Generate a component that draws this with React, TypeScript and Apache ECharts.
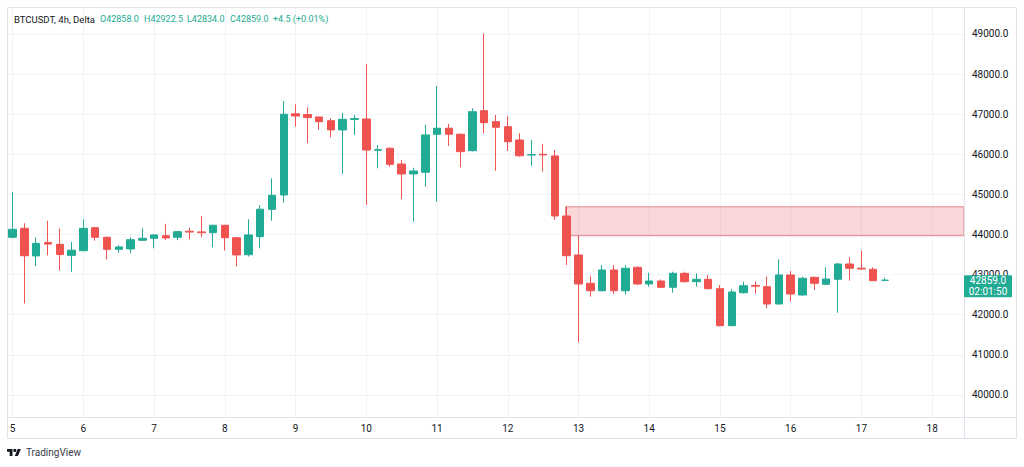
import React, { useEffect, useRef } from "react";
import * as echarts from "echarts";

const symbolTitle = "BTCUSDT, 4h, Delta";
const dayLabels = ["5", "6", "7", "8", "9", "10", "11", "12", "13", "14", "15", "16", "17", "18"];
const slotsPerDay = 6;
const yTicks = [40000, 41000, 42000, 43000, 44000, 45000, 46000, 47000, 48000, 49000];

const opens = [
  43930, 44155, 43465, 43800, 43755, 43480, 43596, 44170, 43930, 43630,
  43640, 43855, 43905, 43970, 43930, 44080, 44065, 44045, 44230, 43920,
  43496, 43945, 44628, 44985, 47010, 46990, 46930, 46838, 46608, 46870,
  46880, 46100, 46150, 45758, 45510, 45553, 46500, 46650, 46500, 46090,
  47087, 46813, 46688, 46357, 45980, 46000, 45958, 44461, 43489, 42783,
  42598, 43115, 42598, 43182, 42766, 42840, 42683, 43032, 42823, 42883,
  42648, 41726, 42549, 42730, 42698, 42267, 42990, 42491, 42932, 42758,
  42883, 43264, 43160, 43132, 42858,
];
const closes = [
  44130, 43470, 43780, 43760, 43500, 43610, 44155, 43930, 43630, 43690,
  43870, 43905, 43990, 43915, 44070, 44060, 44045, 44230, 43920, 43490,
  43990, 44630, 44977, 47000, 46955, 46915, 46813, 46608, 46873, 46890,
  46107, 46115, 45750, 45510, 45584, 46483, 46650, 46500, 46065, 47062,
  46788, 46673, 46314, 45965, 45995, 45985, 44461, 43471, 42766, 42598,
  43115, 42598, 43157, 42766, 42840, 42683, 43032, 42823, 42883, 42648,
  41726, 42566, 42723, 42710, 42267, 42990, 42516, 42908, 42783, 42890,
  43264, 43157, 43140, 42848, 42859,
];
const lows = [
  43900, 42280, 43210, 43480, 43100, 43070, 43580, 43845, 43380, 43546,
  43530, 43840, 43655, 43863, 43860, 43880, 43930, 43680, 43600, 43200,
  43450, 43655, 44344, 44790, 46690, 46275, 46608, 46424, 45510, 46483,
  44736, 45650, 45690, 44885, 44320, 45192, 44818, 46207, 45676, 46070,
  46524, 45591, 46082, 45940, 45716, 45566, 44361, 43240, 41312, 42449,
  42580, 42516, 42500, 42740, 42698, 42670, 42549, 42800, 42698, 42630,
  41710, 41720, 42530, 42530, 42160, 42260, 42324, 42480, 42616, 42740,
  42050, 42848, 43120, 42840, 42834,
];
const highs = [
  45060, 44280, 43930, 44340, 44145, 43815, 44380, 44190, 43950, 43730,
  43930, 44155, 44000, 44262, 44090, 44170, 44460, 44240, 44240, 43940,
  44380, 44736, 45400, 47330, 47247, 47170, 46935, 46898, 47037, 46980,
  48252, 46232, 46170, 45858, 45666, 46731, 47703, 46756, 46520, 47147,
  49017, 46980, 46955, 46524, 46357, 46257, 46107, 44700, 43963, 42965,
  43239, 43239, 43239, 43200, 43047, 42880, 43072, 43072, 43030, 42990,
  42741, 42633, 42823, 42823, 42948, 43382, 43090, 42950, 42950, 43182,
  43290, 43431, 43596, 43182, 42922.5,
];
const lastChange = 4.5;
const countdown = "02:01:50";

const zoneStartSlot = 46.9;
const zoneTop = 44690;
const zoneBottom = 43970;

const xMin = -0.48;
const xMax = 80.7;
const yMin = 39449;
const yMax = 49673;

const UP = "#22ab94";
const DOWN = "#ef5350";
const FRAME = "#e0e3eb";
const GRIDLINE = "#f0f3fa";
const TEXT = "#131722";
const FONT = "Roboto, 'Noto Sans', sans-serif";

const TV_LOGO = "M14 22H7V11H0V4h14v18zM28 22h-8l7.5-18h8L28 22z";

export default function App() {
  const ref = useRef<HTMLDivElement>(null);

  useEffect(() => {
    if (!ref.current) return;
    try {
      echarts.graphic.registerShape("tvlogo", echarts.graphic.extendPath(TV_LOGO, {}));
    } catch (e) {
      /* already registered */
    }
    const chart = echarts.init(ref.current, null, { renderer: "svg" });

    const candles = opens.map((o, i) => [i, o, closes[i], lows[i], highs[i]]);
    const dayValues = dayLabels.map((_, d) => d * slotsPerDay);
    const last = opens.length - 1;
    const prevRef = closes[last] - lastChange;
    const pct = (lastChange / prevRef) * 100;
    const fmt = (v: number) => v.toFixed(1);

    const headerItems = [
      { x: 100, t: "O" + fmt(opens[last]) },
      { x: 144, t: "H" + fmt(highs[last]) },
      { x: 187, t: "L" + fmt(lows[last]) },
      { x: 230, t: "C" + fmt(closes[last]) },
      { x: 273, t: (lastChange >= 0 ? "+" : "") + lastChange + " (" + (pct >= 0 ? "+" : "") + pct.toFixed(2) + "%)" },
    ];

    const baseGraphics: any[] = [
      { id: "frame", type: "rect", shape: { x: 7.5, y: 7.5, width: 1009, height: 431 }, style: { fill: "none", stroke: FRAME, lineWidth: 1 }, silent: true, z: 50 },
      { id: "vdiv", type: "line", shape: { x1: 964.5, y1: 7.5, x2: 964.5, y2: 438.5 }, style: { stroke: FRAME, lineWidth: 1 }, silent: true, z: 50 },
      { id: "hdiv", type: "line", shape: { x1: 7.5, y1: 417.5, x2: 1016.5, y2: 417.5 }, style: { stroke: FRAME, lineWidth: 1 }, silent: true, z: 50 },
      { id: "title", type: "text", x: 14, y: 19, style: { text: symbolTitle, fill: TEXT, font: "9.5px " + FONT, textVerticalAlign: "middle" }, z: 60 },
      ...headerItems.map((h, k) => ({
        id: "hdr" + k,
        type: "text",
        x: h.x,
        y: 19,
        style: { text: h.t, fill: UP, font: "9px " + FONT, textVerticalAlign: "middle" },
        z: 60,
      })),
      { id: "logo", type: "tvlogo", x: 7, y: 447.4, scaleX: 0.39, scaleY: 0.39, style: { fill: "#131722" }, z: 60 },
      { id: "logodot", type: "circle", shape: { cx: 14.8, cy: 450.5, r: 1.6 }, style: { fill: "#131722" }, z: 60 },
      { id: "logotext", type: "text", x: 26, y: 452.5, style: { text: "TradingView", fill: "#3a3e4a", font: "10px " + FONT, textVerticalAlign: "middle" }, z: 60 },
    ];

    const option: any = {
      animation: false,
      backgroundColor: "#ffffff",
      grid: { left: 7, top: 7, width: 957, height: 410, containLabel: false },
      xAxis: {
        type: "value",
        min: xMin,
        max: xMax,
        axisLine: { show: false },
        axisTick: { show: false, customValues: dayValues },
        axisLabel: {
          customValues: dayValues,
          formatter: (v: number) => dayLabels[Math.round(v / slotsPerDay)] ?? "",
          color: TEXT,
          fontSize: 10,
          fontFamily: FONT,
          margin: 6,
        },
        splitLine: { show: true, lineStyle: { color: GRIDLINE, width: 1 } },
      },
      yAxis: {
        type: "value",
        position: "right",
        min: yMin,
        max: yMax,
        scale: true,
        axisLine: { show: false },
        axisTick: { show: false, customValues: yTicks },
        axisLabel: {
          customValues: yTicks,
          formatter: (v: number) => v.toFixed(1),
          color: TEXT,
          fontSize: 10,
          fontFamily: FONT,
          margin: 8,
        },
        splitLine: { show: true, lineStyle: { color: GRIDLINE, width: 1 } },
      },
      series: [
        {
          type: "candlestick",
          data: candles,
          encode: { x: 0, y: [1, 2, 3, 4] },
          barWidth: 8,
          itemStyle: {
            color: UP,
            color0: DOWN,
            borderColor: UP,
            borderColor0: DOWN,
            borderWidth: 1,
          },
          markArea: {
            silent: true,
            itemStyle: { color: "rgba(242,54,69,0.2)", borderColor: "#e2858b", borderWidth: 1 },
            label: { show: false },
            data: [[{ coord: [zoneStartSlot, zoneTop] }, { coord: [xMax, zoneBottom] }]],
          },
        },
      ],
      graphic: { elements: baseGraphics },
    };

    chart.setOption(option);

    const yPx = chart.convertToPixel({ yAxisIndex: 0 }, closes[last]) as number;
    const priceLabel = [
      { id: "plbox", type: "rect", shape: { x: 964, y: yPx - 5, width: 48, height: 22, r: 1 }, style: { fill: UP }, z: 70 },
      { id: "plprice", type: "text", x: 988, y: yPx + 0.5, style: { text: fmt(closes[last]), fill: "#ffffff", font: "10px " + FONT, textAlign: "center", textVerticalAlign: "middle" }, z: 71 },
      { id: "plcount", type: "text", x: 988, y: yPx + 11, style: { text: countdown, fill: "#ffffff", font: "10px " + FONT, textAlign: "center", textVerticalAlign: "middle" }, z: 71 },
    ];
    chart.setOption({ graphic: { elements: [...baseGraphics, ...priceLabel] } });

    return () => chart.dispose();
  }, []);

  return (
    <div
      ref={ref}
      style={{ position: "fixed", left: 0, top: 0, width: 1024, height: 467, background: "#ffffff" }}
    />
  );
}
